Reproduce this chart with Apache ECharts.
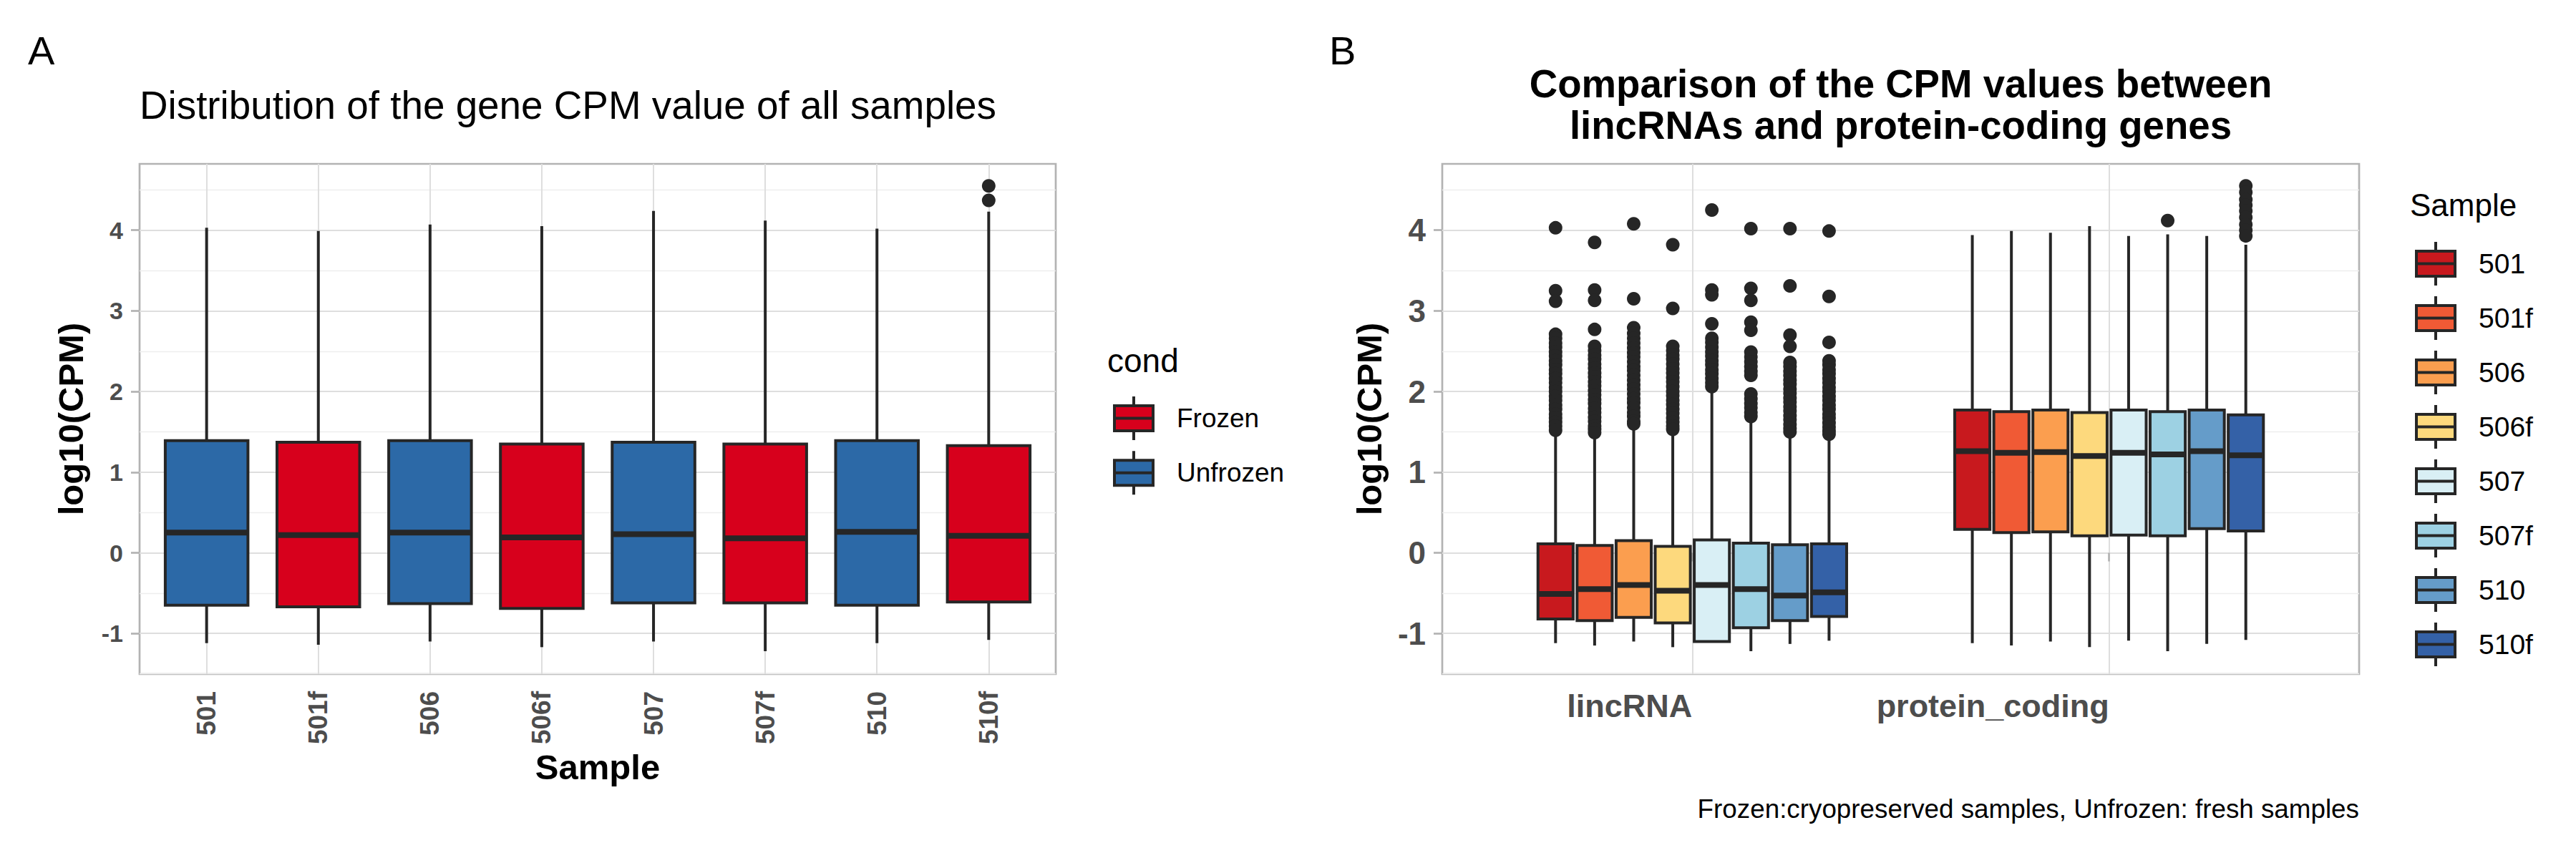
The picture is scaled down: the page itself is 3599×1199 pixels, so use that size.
<!DOCTYPE html>
<html>
<head>
<meta charset="utf-8">
<title>CPM distribution</title>
<script src="https://cdn.jsdelivr.net/npm/echarts@6/dist/echarts.min.js"></script>
<style>
  html, body { margin: 0; padding: 0; background: #fff; }
  #chart { width: 3599px; height: 1199px; }
</style>
</head>
<body>
<div id="chart"></div>
<script>
// ---- data (log10 CPM) ----
const samples = ['501', '501f', '506', '506f', '507', '507f', '510', '510f'];
const sampleCond = ['Unfrozen', 'Frozen', 'Unfrozen', 'Frozen', 'Unfrozen', 'Frozen', 'Unfrozen', 'Frozen'];
const condNames = ['Frozen', 'Unfrozen'];
const condColors = ['#D7001C', '#2C69A7'];
const sampleColors = ['#C8191E', '#F05A35', '#FB9E4F', '#FDD97D', '#D9EFF5', '#9DD1E3', '#659CC9', '#3461A7'];
const geneTypes = ['lincRNA', 'protein_coding'];
const yTicks = [-1, 0, 1, 2, 3, 4];

// [min, Q1, median, Q3, max] per sample
const allStats = [
  [-1.12, -0.65, 0.25, 1.39, 4.03],
  [-1.14, -0.67, 0.22, 1.37, 3.99],
  [-1.10, -0.63, 0.25, 1.39, 4.07],
  [-1.17, -0.69, 0.19, 1.35, 4.05],
  [-1.10, -0.62, 0.23, 1.37, 4.24],
  [-1.22, -0.62, 0.18, 1.35, 4.12],
  [-1.12, -0.65, 0.26, 1.39, 4.02],
  [-1.08, -0.61, 0.21, 1.33, 4.23]
];
const allOutliers = [[], [], [], [], [], [], [], [4.37, 4.55]];

const lincStats = [
  [-1.12, -0.82, -0.51, 0.11, 1.49],
  [-1.15, -0.84, -0.45, 0.09, 1.47],
  [-1.10, -0.80, -0.40, 0.15, 1.57],
  [-1.17, -0.87, -0.47, 0.08, 1.50],
  [-1.10, -1.10, -0.40, 0.16, 2.03],
  [-1.22, -0.93, -0.45, 0.12, 1.66],
  [-1.13, -0.84, -0.53, 0.10, 1.47],
  [-1.09, -0.79, -0.49, 0.11, 1.45]
];
const codingStats = [
  [-1.12, 0.29, 1.26, 1.77, 3.94],
  [-1.15, 0.25, 1.24, 1.75, 3.99],
  [-1.10, 0.26, 1.25, 1.77, 3.97],
  [-1.17, 0.21, 1.20, 1.74, 4.05],
  [-1.09, 0.22, 1.24, 1.77, 3.93],
  [-1.22, 0.21, 1.22, 1.75, 3.95],
  [-1.13, 0.30, 1.26, 1.77, 3.93],
  [-1.08, 0.27, 1.21, 1.71, 3.82]
];
const lincOutliers = [
  [4.03, 3.25, 3.12, 2.71, 2.66, 2.60, 2.55, 2.49, 2.44, 2.38, 2.33, 2.27, 2.22, 2.16, 2.11, 2.05, 2.00, 1.94, 1.89, 1.83, 1.78, 1.72, 1.67, 1.62, 1.57, 1.52],
  [3.85, 3.26, 3.13, 2.77, 2.56, 2.51, 2.45, 2.40, 2.34, 2.29, 2.23, 2.18, 2.12, 2.07, 2.01, 1.96, 1.90, 1.85, 1.79, 1.74, 1.68, 1.63, 1.57, 1.53, 1.49],
  [4.08, 3.15, 2.79, 2.72, 2.66, 2.60, 2.54, 2.48, 2.43, 2.37, 2.31, 2.26, 2.20, 2.14, 2.08, 2.03, 1.97, 1.91, 1.86, 1.80, 1.74, 1.69, 1.63, 1.60],
  [3.82, 3.03, 2.56, 2.51, 2.45, 2.40, 2.34, 2.28, 2.23, 2.17, 2.12, 2.06, 2.00, 1.95, 1.89, 1.84, 1.78, 1.73, 1.67, 1.62, 1.57, 1.53],
  [4.25, 3.26, 3.20, 2.84, 2.66, 2.61, 2.55, 2.49, 2.44, 2.38, 2.33, 2.27, 2.22, 2.16, 2.11, 2.06],
  [4.02, 3.28, 3.13, 2.86, 2.76, 2.49, 2.43, 2.37, 2.31, 2.25, 2.20, 1.97, 1.91, 1.85, 1.80, 1.74, 1.69],
  [4.02, 3.31, 2.70, 2.56, 2.36, 2.31, 2.25, 2.20, 2.14, 2.09, 2.03, 1.98, 1.92, 1.87, 1.81, 1.76, 1.70, 1.65, 1.59, 1.54, 1.50],
  [3.99, 3.18, 2.61, 2.38, 2.33, 2.27, 2.22, 2.16, 2.11, 2.05, 2.00, 1.94, 1.89, 1.83, 1.78, 1.72, 1.67, 1.61, 1.56, 1.51, 1.47]
];
const codingOutliers = [[], [], [], [], [], [4.12], [], [4.55, 4.47, 4.38, 4.31, 4.24, 4.16, 4.07, 4.00, 3.93]];

// ---- layout ----
const FONT = '"Liberation Sans", Arial, sans-serif';
const INK = '#262626';
const GRID_MAJOR = '#DEDEDE';
const GRID_MINOR = '#EDEDED';
const BORDER = '#B3B3B3';
const TICK_TEXT = '#4D4D4D';
const Y_MIN = -1.504;
const Y_MAX = 4.823;
const EXPAND = 0.6; // ggplot discrete expansion
const TOP = 229;
const HEIGHT = 713;

const frameA = { left: 195, top: TOP, width: 1280, height: HEIGHT };
const frameB = { left: 2015, top: TOP, width: 1281, height: HEIGHT };
function innerGrid(frame, n) {
  const unit = frame.width / (n - 1 + 2 * EXPAND);
  return { left: frame.left + EXPAND * unit, top: frame.top, width: (n - 1) * unit, height: frame.height, show: false };
}
const DODGE = 0.75 / samples.length;

const keyIcon = 'path://M0,13L54,13L54,48L0,48Z M0,30.5L54,30.5 M27,0L27,13 M27,48L27,61';

function boxRenderer(widthUnits) {
  return function (params, api) {
    const x = api.value(0);
    const w = api.size([1, 0])[0] * widthUnits;
    const lo = api.coord([x, api.value(1)]);
    const q1 = api.coord([x, api.value(2)]);
    const med = api.coord([x, api.value(3)]);
    const q3 = api.coord([x, api.value(4)]);
    const hi = api.coord([x, api.value(5)]);
    const cx = med[0];
    const thin = { stroke: INK, lineWidth: 4 };
    return {
      type: 'group',
      children: [
        { type: 'line', shape: { x1: cx, y1: hi[1], x2: cx, y2: q3[1] }, style: thin },
        { type: 'line', shape: { x1: cx, y1: q1[1], x2: cx, y2: lo[1] }, style: thin },
        { type: 'rect', shape: { x: cx - w / 2, y: q3[1], width: w, height: q1[1] - q3[1] },
          style: { fill: api.visual('color'), stroke: INK, lineWidth: 4 } },
        { type: 'line', shape: { x1: cx - w / 2, y1: med[1], x2: cx + w / 2, y2: med[1] },
          style: { stroke: INK, lineWidth: 8 } }
      ]
    };
  };
}

function frameYAxis(gridIndex, labelSize, nameGap) {
  return {
    gridIndex: gridIndex, type: 'value', min: Y_MIN, max: Y_MAX, minInterval: 1, maxInterval: 1,
    axisLine: { show: false },
    axisTick: { show: true, length: 12, customValues: yTicks, lineStyle: { color: BORDER, width: 2.7 } },
    axisLabel: {
      customValues: yTicks, margin: 23, fontSize: labelSize, fontWeight: 'bold', color: TICK_TEXT, fontFamily: FONT,
      formatter: v => (Number.isInteger(v) ? String(v) : '')
    },
    splitLine: { show: true, lineStyle: { color: GRID_MAJOR, width: 2 } },
    minorTick: { show: false, splitNumber: 2 },
    minorSplitLine: { show: true, lineStyle: { color: GRID_MINOR, width: 1.3 } },
    name: 'log10(CPM)', nameLocation: 'middle', nameGap: nameGap,
    nameTextStyle: { fontSize: 49, fontWeight: 'bold', color: '#000', fontFamily: FONT }
  };
}
function hiddenY(gridIndex) {
  return { gridIndex: gridIndex, type: 'value', min: Y_MIN, max: Y_MAX, show: false };
}

// ---- series ----
const series = [];
condNames.forEach((cond, c) => {
  series.push({
    type: 'custom', name: cond, xAxisIndex: 1, yAxisIndex: 1,
    itemStyle: { color: condColors[c] },
    renderItem: boxRenderer(0.74),
    encode: { x: 0, y: [1, 2, 3, 4, 5] },
    data: samples.map((s, i) => [i].concat(allStats[i])).filter((d, i) => sampleCond[i] === cond)
  });
});
series.push({
  type: 'scatter', name: 'outliersA', xAxisIndex: 1, yAxisIndex: 1, clip: false,
  symbolSize: 19, itemStyle: { color: INK, opacity: 1 },
  data: allOutliers.flatMap((vals, i) => vals.map(v => [i, v]))
});

samples.forEach((s, k) => {
  const off = (k - (samples.length - 1) / 2) * DODGE;
  series.push({
    type: 'custom', name: s, xAxisIndex: 4, yAxisIndex: 3,
    itemStyle: { color: sampleColors[k] },
    renderItem: boxRenderer(DODGE * 0.9),
    encode: { x: 0, y: [1, 2, 3, 4, 5] },
    data: [[1 + off].concat(lincStats[k]), [2 + off].concat(codingStats[k])]
  });
});
series.push({
  type: 'scatter', name: 'outliersB', xAxisIndex: 4, yAxisIndex: 3, clip: false,
  symbolSize: 19, itemStyle: { color: INK, opacity: 1 },
  data: samples.flatMap((s, k) => {
    const off = (k - (samples.length - 1) / 2) * DODGE;
    return lincOutliers[k].map(v => [1 + off, v]).concat(codingOutliers[k].map(v => [2 + off, v]));
  })
});

function txt(text, x, baseline, size, opts) {
  opts = opts || {};
  return {
    type: 'text', silent: true,
    style: {
      text: text, x: x, y: baseline - 0.35 * size,
      fontSize: size, fontFamily: FONT, fontWeight: opts.bold ? 'bold' : 'normal',
      fill: '#000', align: opts.align || 'left', verticalAlign: 'middle'
    }
  };
}

const option = {
  animation: false,
  backgroundColor: '#fff',
  textStyle: { fontFamily: FONT },
  grid: [
    Object.assign({ show: true, borderColor: BORDER, borderWidth: 2.7, backgroundColor: 'transparent' }, frameA),
    innerGrid(frameA, samples.length),
    Object.assign({ show: true, borderColor: BORDER, borderWidth: 2.7, backgroundColor: 'transparent' }, frameB),
    innerGrid(frameB, geneTypes.length)
  ],
  xAxis: [
    { gridIndex: 0, type: 'value', show: false },
    {
      gridIndex: 1, type: 'category', data: samples, boundaryGap: false,
      axisLine: { show: false },
      axisTick: { show: true, length: 12, lineStyle: { color: BORDER, width: 2.7 } },
      axisLabel: { interval: 0, rotate: 90, margin: 24, fontSize: 37, fontWeight: 'bold', color: TICK_TEXT, fontFamily: FONT },
      splitLine: { show: true, lineStyle: { color: GRID_MAJOR, width: 2 } },
      name: 'Sample', nameLocation: 'middle', nameGap: 104,
      nameTextStyle: { fontSize: 49, fontWeight: 'bold', color: '#000', fontFamily: FONT }
    },
    { gridIndex: 2, type: 'value', show: false },
    {
      gridIndex: 3, type: 'category', data: geneTypes, boundaryGap: false,
      axisLine: { show: false },
      axisTick: { show: true, length: 12, lineStyle: { color: BORDER, width: 2.7 } },
      axisLabel: { interval: 0, align: 'right', margin: 22, fontSize: 45, fontWeight: 'bold', color: TICK_TEXT, fontFamily: FONT },
      splitLine: { show: true, lineStyle: { color: GRID_MAJOR, width: 2 } }
    },
    { gridIndex: 3, type: 'value', min: 1, max: 2, show: false }
  ],
  yAxis: [
    frameYAxis(0, 34, 72),
    hiddenY(1),
    frameYAxis(2, 44, 78),
    hiddenY(3)
  ],
  legend: [
    {
      data: condNames.map(n => ({ name: n, icon: keyIcon })),
      orient: 'vertical', left: 1555, top: 552, padding: 0,
      itemWidth: 54, itemHeight: 61, itemGap: 11.3, selectedMode: false,
      itemStyle: { borderColor: INK, borderWidth: 4 },
      textStyle: { fontSize: 37, color: '#000', fontFamily: FONT, padding: [0, 0, 0, 28] }
    },
    {
      data: samples.map(n => ({ name: n, icon: keyIcon })),
      orient: 'vertical', left: 3374, top: 336, padding: 0,
      itemWidth: 54, itemHeight: 61, itemGap: 11, selectedMode: false,
      itemStyle: { borderColor: INK, borderWidth: 4 },
      textStyle: { fontSize: 39, color: '#000', fontFamily: FONT, padding: [0, 0, 0, 28] }
    }
  ],
  graphic: [
    txt('A', 39, 90, 56),
    txt('B', 1857, 90, 56),
    txt('Distribution of the gene CPM value of all samples', 195, 166, 54.8),
    txt('Comparison of the CPM values between', 2655.5, 137, 54.6, { bold: true, align: 'center' }),
    txt('lincRNAs and protein-coding genes', 2655.5, 195, 54.6, { bold: true, align: 'center' }),
    txt('cond', 1547, 520, 46),
    txt('Sample', 3367, 302, 44),
    txt('Frozen:cryopreserved samples, Unfrozen: fresh samples', 3296, 1143, 36.8, { align: 'right' })
  ],
  series: series
};

const chart = echarts.init(document.getElementById('chart'), null, { renderer: 'svg' });
chart.setOption(option);
</script>
</body>
</html>
